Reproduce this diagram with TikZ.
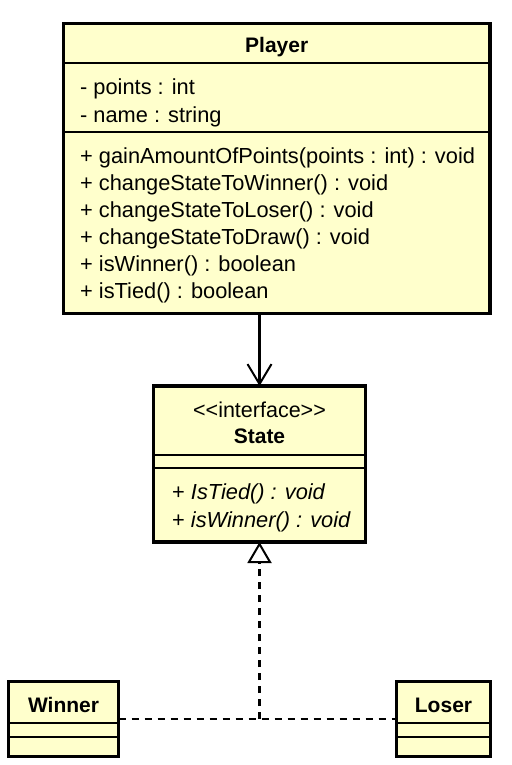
\documentclass[tikz,border=0pt]{standalone}
\usepackage{fontspec}
\setmainfont{Liberation Sans}
\usetikzlibrary{arrows.meta}
\definecolor{umlfill}{RGB}{255,255,204}
\tikzset{
  umlbox/.style={draw=black, line width=3.2pt, fill=umlfill, inner sep=0pt, outer sep=0pt},
  divider/.style={draw=black, line width=1.4pt},
  txt/.style={inner sep=0pt, anchor=base west, font=\fontsize{21.8}{24}\selectfont},
  ttl/.style={inner sep=0pt, anchor=base, font=\fontsize{21}{24}\selectfont\bfseries},
  conn/.style={draw=black, line width=2.2pt},
  dashconn/.style={draw=black, line width=2.2pt, dash pattern=on 7pt off 6pt}
}
\begin{document}
\begin{tikzpicture}[x=1pt,y=-1pt]
\useasboundingbox (0,0) rectangle (511,765);
% Player
\node[umlbox, minimum width=426.5pt, minimum height=290pt] (player) at (276.75,168.5) {};
\draw[divider] (63.5,63) -- (490,63);
\draw[divider] (63.5,132) -- (490,132);
\node[ttl] (ptitle) at (276.75,53) {Player};
\node[txt] (a1) at (80,95) {- points : int};
\node[txt] (a2) at (80,122) {- name : string};
\node[txt] (m1) at (80,163) {+ gainAmountOfPoints(points : int) : void};
\node[txt] (m2) at (80,190) {+ changeStateToWinner() : void};
\node[txt] (m3) at (80,217) {+ changeStateToLoser() : void};
\node[txt] (m4) at (80,244) {+ changeStateToDraw() : void};
\node[txt] (m5) at (80,271) {+ isWinner() : boolean};
\node[txt] (m6) at (80,298) {+ isTied() : boolean};
% State
\node[umlbox, minimum width=212pt, minimum height=156pt] (state) at (259.5,464) {};
\draw[divider] (153.5,455) -- (365.5,455);
\draw[divider] (153.5,468) -- (365.5,468);
\node[inner sep=0pt, anchor=base, font=\fontsize{21.5}{24}\selectfont] (stereo) at (259.5,417) {<{}<interface>{}>};
\node[ttl] (stitle) at (259.5,443) {State};
\node[txt] (s1) at (172,499) {+ \itshape IsTied() : void};
\node[txt] (s2) at (172,527) {+ \itshape isWinner() : void};
% Winner
\node[umlbox, minimum width=110pt, minimum height=75pt] (winner) at (63.5,719) {};
\draw[divider] (8.5,723) -- (118.5,723);
\draw[divider] (8.5,737) -- (118.5,737);
\node[ttl] (wtitle) at (63.5,712) {Winner};
% Loser
\node[umlbox, minimum width=94pt, minimum height=75pt] (loser) at (443.5,719) {};
\draw[divider] (396.5,723) -- (490.5,723);
\draw[divider] (396.5,737) -- (490.5,737);
\node[ttl] (ltitle) at (443.5,712) {Loser};
% connectors
\draw[conn, -{Straight Barb[length=20pt, width=24pt, line width=2pt]}] (state.north |- player.south) -- (state.north);
\coordinate (junc) at (state.south |- winner.east);
\draw[dashconn] (winner.east) -- (loser.west);
\draw[dashconn, -{Triangle[open, length=21pt, width=24pt, line width=2pt, fill=white]}] (junc) -- (state.south);
\end{tikzpicture}
\end{document}
